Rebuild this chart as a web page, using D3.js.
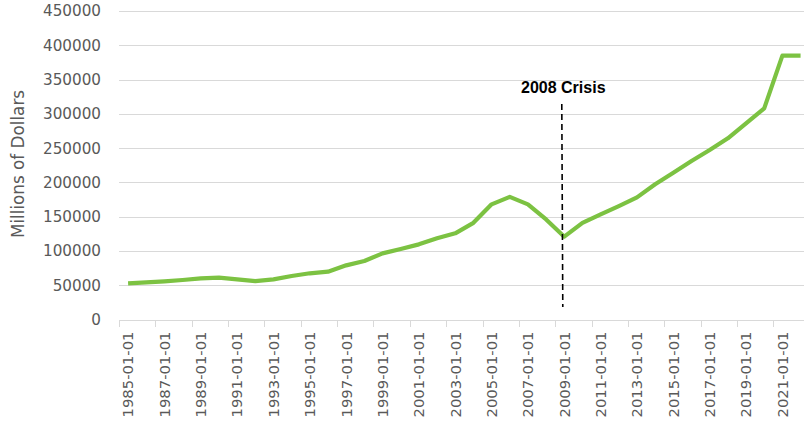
<!DOCTYPE html>
<html>
<head>
<meta charset="utf-8">
<script src="https://cdn.jsdelivr.net/npm/d3@7"></script>
<style>
  html, body { margin: 0; padding: 0; background: #ffffff; }
  svg { display: block; }
</style>
</head>
<body>
<svg id="chart" width="804" height="421"></svg>
<script>
const categories = ["1985-01-01","1986-01-01","1987-01-01","1988-01-01","1989-01-01","1990-01-01","1991-01-01","1992-01-01","1993-01-01","1994-01-01","1995-01-01","1996-01-01","1997-01-01","1998-01-01","1999-01-01","2000-01-01","2001-01-01","2002-01-01","2003-01-01","2004-01-01","2005-01-01","2006-01-01","2007-01-01","2008-01-01","2009-01-01","2010-01-01","2011-01-01","2012-01-01","2013-01-01","2014-01-01","2015-01-01","2016-01-01","2017-01-01","2018-01-01","2019-01-01","2020-01-01","2021-01-01","2022-01-01"];
const values = [52800,54200,55700,57600,60000,61000,58500,56100,58600,63500,67400,69700,79000,85300,96500,102800,109600,118400,125700,141000,168000,178800,168000,146000,120800,141000,153400,165500,178200,197200,214100,231200,247200,264300,286200,308000,385000,385000];
const yTicks = [0,50000,100000,150000,200000,250000,300000,350000,400000,450000];
const yTitle = "Millions of Dollars";
const annotationLabel = "2008 Crisis";
const annotationCategory = "2009-01-01";

(function () {
const svg = d3.select("#chart");
const mLeft = 119, mBottom = 319.5, mTop = 11;
const step = 18.175;
const x = d3.scaleBand().domain(categories).range([mLeft, mLeft + step * categories.length]).paddingInner(0).paddingOuter(0);
const y = d3.scaleLinear().domain([0, 450000]).range([mBottom, mTop]);

const textColor = "#595959";
const gridColor = "#d9d9d9";

// gridlines
svg.append("g").selectAll("line").data(yTicks.filter(d => d > 0)).join("line")
  .attr("x1", mLeft).attr("x2", 804)
  .attr("y1", d => Math.round(y(d)) + 0.5).attr("y2", d => Math.round(y(d)) + 0.5)
  .attr("stroke", gridColor).attr("stroke-width", 1);

// y labels
svg.append("g").selectAll("text").data(yTicks).join("text")
  .attr("x", 101).attr("y", d => y(d)).attr("dy", "0.36em")
  .attr("text-anchor", "end")
  .attr("font-family", "DejaVu Sans, sans-serif").attr("font-size", 15.2)
  .attr("fill", textColor)
  .text(d => d);

// y title
svg.append("text")
  .attr("transform", `translate(24,164) rotate(-90)`)
  .attr("text-anchor", "middle")
  .attr("font-family", "DejaVu Sans, sans-serif").attr("font-size", 16.8)
  .attr("fill", textColor)
  .text(yTitle);

// x axis
const xAxis = svg.append("g");
xAxis.append("line").attr("x1", mLeft).attr("x2", 804)
  .attr("y1", Math.round(mBottom) + 0.5).attr("y2", Math.round(mBottom) + 0.5)
  .attr("stroke", gridColor).attr("stroke-width", 1);
const tickCats = categories.filter((d, i) => i % 2 === 0);
xAxis.selectAll("line.tick").data(tickCats).join("line").attr("class", "tick")
  .attr("x1", d => Math.round(x(d)) + 0.5).attr("x2", d => Math.round(x(d)) + 0.5)
  .attr("y1", Math.round(mBottom)).attr("y2", Math.round(mBottom) + 7)
  .attr("stroke", gridColor).attr("stroke-width", 1);
xAxis.selectAll("text").data(tickCats).join("text")
  .attr("transform", d => `translate(${x(d) + x.bandwidth() / 2},${mBottom + 12}) rotate(-90)`)
  .attr("text-anchor", "end").attr("dy", "0.36em")
  .attr("font-family", "DejaVu Sans, sans-serif").attr("font-size", 14.8)
  .attr("fill", textColor)
  .text(d => d);

// line
const line = d3.line().x((d, i) => x(categories[i]) + x.bandwidth() / 2).y(d => y(d));
svg.append("path").datum(values)
  .attr("d", line)
  .attr("fill", "none").attr("stroke", "#7cc242").attr("stroke-width", 4.2)
  .attr("stroke-linejoin", "round").attr("stroke-linecap", "butt");

// annotation
const ax = x(annotationCategory) + x.bandwidth() / 2 - 2;
svg.append("line").attr("x1", ax - 0.5).attr("x2", ax + 0.5)
  .attr("y1", 104).attr("y2", 307)
  .attr("stroke", "#000").attr("stroke-width", 1.6).attr("stroke-dasharray", "6,4");
svg.append("text").attr("x", ax + 1).attr("y", 93)
  .attr("text-anchor", "middle")
  .attr("font-family", "Liberation Sans, Arial, sans-serif").attr("font-weight", "bold").attr("font-size", 16)
  .attr("fill", "#000")
  .text(annotationLabel);
})();
</script>
</body>
</html>
